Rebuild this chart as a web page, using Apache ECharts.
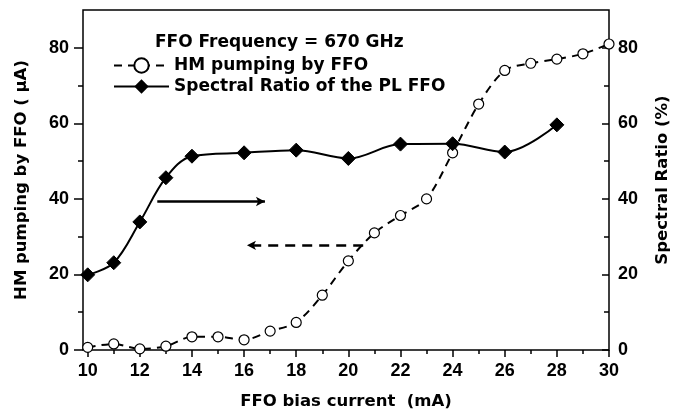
<!DOCTYPE html>
<html>
<head>
<meta charset="utf-8">
<script src="https://cdn.jsdelivr.net/npm/echarts@6/dist/echarts.min.js"></script>
<style>html,body{margin:0;padding:0;background:#fff}#c{width:688px;height:415px}</style>
</head>
<body>
<div id="c"></div>
<script>
// Data
const biasHM = [10,11,12,13,14,15,16,17,18,19,20,21,22,23,24,25,26,27,28,29,30];
const hmPumping = [0.7,1.6,0.3,1.0,3.5,3.5,2.7,5.0,7.3,14.5,23.6,31.0,35.6,40.0,52.2,65.1,74.0,75.9,77.0,78.4,81.0];
const biasSR = [10,11,12,13,14,16,18,20,22,24,26,28];
const spectralRatio = [19.9,23.1,33.9,45.6,51.3,52.2,52.9,50.7,54.5,54.6,52.4,59.6];
const xMajorTicks = [10,12,14,16,18,20,22,24,26,28,30];
const xMinorTicks = [11,13,15,17,19,21,23,25,27,29];
const yMajorTicks = [0,20,40,60,80];
const yMinorTicks = [10,30,50,70];
// Annotation arrows: [x start, x end, y]
const solidArrow = [12.67, 16.8, 39.3];
const dashedArrow = [20.57, 16.11, 27.7];

const FW = '"DejaVu Sans", Verdana, sans-serif';
const FN = '"Liberation Sans", Arial, Helvetica, sans-serif';
const lbl = {fontFamily: FN, fontWeight: 'bold', fontSize: 18, color: '#000'};
const nameStyle = {fontFamily: FW, fontWeight: 'bold', fontSize: 16.5, color: '#000'};
const XMIN = 9.82, XMAX = 30, YMIN = 0, YMAX = 90;

function xAx(pos, ticks, len, inside, opts) {
  return Object.assign({
    type: 'value', position: pos, min: XMIN, max: XMAX,
    axisLine: {show: false},
    axisTick: {show: true, inside: inside, length: len, customValues: ticks, lineStyle: {color: '#000', width: 1.5}},
    axisLabel: {show: false},
    splitLine: {show: false}
  }, opts || {});
}
function yAx(pos, ticks, len, inside, opts) {
  return Object.assign({
    type: 'value', position: pos, min: YMIN, max: YMAX,
    axisLine: {show: false},
    axisTick: {show: true, inside: inside, length: len, customValues: ticks, lineStyle: {color: '#000', width: 1.5}},
    axisLabel: {show: false},
    splitLine: {show: false}
  }, opts || {});
}

const chart = echarts.init(document.getElementById('c'), null, {renderer: 'canvas'});
chart.setOption({
  animation: false,
  backgroundColor: '#fff',
  grid: {left: 83, right: 79, top: 10, bottom: 64, show: true, borderColor: '#000', borderWidth: 1.5, backgroundColor: 'transparent'},
  title: {text: 'FFO Frequency = 670 GHz', left: 150, top: 29, textStyle: {fontFamily: FW, fontWeight: 'bold', fontSize: 17, color: '#000'}},
  legend: {
    orient: 'vertical', left: 108, top: 52, itemWidth: 55, itemHeight: 18, itemGap: 4,
    textStyle: {fontFamily: FW, fontWeight: 'bold', fontSize: 17, color: '#000'},
    data: ['HM pumping by FFO', 'Spectral Ratio of the PL FFO']
  },
  xAxis: [
    xAx('bottom', xMajorTicks, 7, false, {
      axisLabel: Object.assign({show: true, margin: 12, customValues: xMajorTicks}, lbl),
      name: 'FFO bias current  (mA)', nameLocation: 'middle', nameGap: 43,
      nameTextStyle: nameStyle
    }),
    xAx('bottom', xMinorTicks, 4, false),
    xAx('top', xMajorTicks, 7, true),
    xAx('top', xMinorTicks, 4, true)
  ],
  yAxis: [
    yAx('left', yMajorTicks, 9, false, {
      axisLabel: Object.assign({show: true, margin: 14, customValues: yMajorTicks}, lbl),
      name: 'HM pumping by FFO ( \u03bcA)', nameLocation: 'middle', nameGap: 53,
      nameTextStyle: nameStyle
    }),
    yAx('left', yMinorTicks, 5, false),
    yAx('right', yMajorTicks, 7, true, {
      axisLabel: Object.assign({show: true, margin: 9, customValues: yMajorTicks}, lbl),
      name: 'Spectral Ratio (%)', nameLocation: 'middle', nameGap: 45, nameRotate: 90,
      nameTextStyle: nameStyle
    }),
    yAx('right', yMinorTicks, 5, true)
  ],
  series: [
    {
      name: 'HM pumping by FFO', type: 'line', xAxisIndex: 0, yAxisIndex: 0,
      data: biasHM.map((x, i) => [x, hmPumping[i]]),
      smooth: 0.3, symbol: 'circle', symbolSize: 10, z: 3,
      lineStyle: {color: '#000', width: 2, type: [8, 6]},
      itemStyle: {color: '#fff', borderColor: '#000', borderWidth: 1.2},
      markLine: {
        silent: true, symbol: ['none', 'arrow'], symbolSize: [7, 9],
        label: {show: false},
        lineStyle: {color: '#000', width: 2.5, type: [10, 7]},
        data: [[{coord: [dashedArrow[0], dashedArrow[2]]}, {coord: [dashedArrow[1], dashedArrow[2]]}]]
      }
    },
    {
      name: 'Spectral Ratio of the PL FFO', type: 'line', xAxisIndex: 0, yAxisIndex: 2,
      data: biasSR.map((x, i) => [x, spectralRatio[i]]),
      smooth: 0.35, symbol: 'diamond', symbolSize: 14, z: 4,
      lineStyle: {color: '#000', width: 2, type: 'solid'},
      itemStyle: {color: '#000', borderColor: '#000'},
      markLine: {
        silent: true, symbol: ['none', 'arrow'], symbolSize: [7, 9],
        label: {show: false},
        lineStyle: {color: '#000', width: 2.5, type: 'solid'},
        data: [[{coord: [solidArrow[0], solidArrow[2]]}, {coord: [solidArrow[1], solidArrow[2]]}]]
      }
    }
  ]
});
</script>
</body>
</html>
